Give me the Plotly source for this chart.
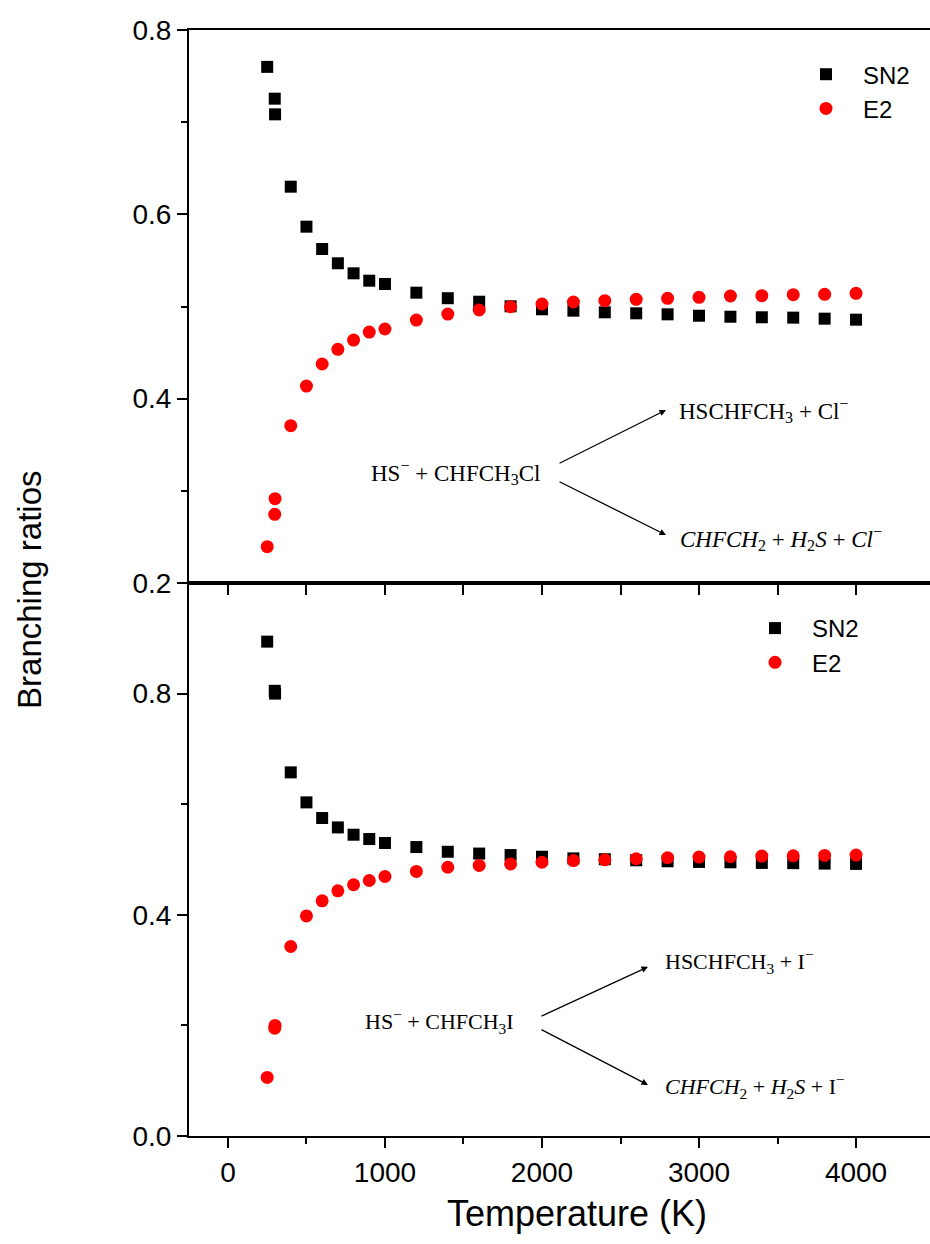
import plotly.graph_objects as go
from plotly.subplots import make_subplots

# ---------------- data ----------------
temps = [250, 298, 300, 400, 500, 600, 700, 800, 900, 1000, 1200, 1400, 1600,
         1800, 2000, 2200, 2400, 2600, 2800, 3000, 3200, 3400, 3600, 3800, 4000]

cl_sn2 = [0.760, 0.7255, 0.7085, 0.630, 0.5866, 0.5624, 0.5469, 0.536, 0.528,
          0.5244, 0.515, 0.509, 0.5052, 0.5002, 0.4970, 0.4955, 0.4937, 0.4926,
          0.4915, 0.4900, 0.4889, 0.4883, 0.4879, 0.4868, 0.4857]
cl_e2 = [0.2394, 0.2745, 0.2915, 0.3707, 0.4137, 0.4376, 0.4535, 0.4636, 0.4723,
         0.4756, 0.4853, 0.4918, 0.4962, 0.4998, 0.5027, 0.5049, 0.5063, 0.5078,
         0.5089, 0.5100, 0.5114, 0.5117, 0.5128, 0.5132, 0.5143]

i_sn2 = [0.894, 0.805, 0.800, 0.6576, 0.6033, 0.575, 0.558, 0.5448, 0.537,
         0.5298, 0.5225, 0.514, 0.5107, 0.508, 0.505, 0.502, 0.5005, 0.4986,
         0.4968, 0.4956, 0.495, 0.4938, 0.4934, 0.4926, 0.492]
i_e2 = [0.106, 0.195, 0.200, 0.3427, 0.398, 0.4253, 0.4434, 0.4543, 0.462,
        0.4693, 0.4784, 0.486, 0.4893, 0.492, 0.495, 0.498, 0.4995, 0.5014,
        0.5032, 0.5044, 0.505, 0.5062, 0.5066, 0.5074, 0.508]

series_names = ["SN2", "E2"]
x_ticks = [0, 1000, 2000, 3000, 4000]

# ---------------- figure ----------------
SANS = "Liberation Sans, Arial, sans-serif"
SERIF = "Liberation Serif, Times New Roman, serif"

fig = make_subplots(rows=2, cols=1, shared_xaxes=False, vertical_spacing=0)

sq = dict(symbol="square", size=12, color="black")
ci = dict(symbol="circle", size=13, color="#ff0000")

fig.add_trace(go.Scatter(x=temps, y=cl_sn2, mode="markers", marker=sq,
                         name=series_names[0], legend="legend"), row=1, col=1)
fig.add_trace(go.Scatter(x=temps, y=cl_e2, mode="markers", marker=ci,
                         name=series_names[1], legend="legend"), row=1, col=1)
fig.add_trace(go.Scatter(x=temps, y=i_sn2, mode="markers", marker=sq,
                         name=series_names[0], legend="legend2"), row=2, col=1)
fig.add_trace(go.Scatter(x=temps, y=i_e2, mode="markers", marker=ci,
                         name=series_names[1], legend="legend2"), row=2, col=1)

xrange = [-248, 4471]
axis_common = dict(showline=True, linecolor="black", linewidth=2,
                   ticks="outside", tickcolor="black", tickwidth=2,
                   showgrid=False, zeroline=False,
                   tickfont=dict(family=SANS, size=28, color="black"))

fig.update_xaxes(range=xrange, mirror=True, tickvals=list(range(0, 4001, 500)),
                 ticklen=10, showticklabels=False, row=1, col=1, **axis_common)
fig.update_xaxes(range=xrange, mirror=True, tickvals=x_ticks, ticklen=10,
                 minor=dict(tickvals=[500, 1500, 2500, 3500], ticklen=6,
                            tickwidth=2, tickcolor="black", ticks="outside"),
                 row=2, col=1, **axis_common)
fig.update_yaxes(range=[0.2, 0.8], tickvals=[0.2, 0.4, 0.6, 0.8], tickformat=".1f",
                 ticklen=10, mirror=False,
                 minor=dict(tickvals=[0.3, 0.5, 0.7], ticklen=6, tickwidth=2,
                            tickcolor="black", ticks="outside"),
                 row=1, col=1, **axis_common)
fig.update_yaxes(range=[0.0, 1.0], tickvals=[0.0, 0.4, 0.8], tickformat=".1f",
                 ticklen=10, mirror=False,
                 minor=dict(tickvals=[0.2, 0.6], ticklen=6, tickwidth=2,
                            tickcolor="black", ticks="outside"),
                 row=2, col=1, **axis_common)

leg_common = dict(font=dict(family=SANS, size=24, color="black"),
                  bgcolor="rgba(0,0,0,0)", itemwidth=64, xanchor="left",
                  yanchor="top", tracegroupgap=0)

fig.update_layout(
    width=930, height=1244,
    margin=dict(l=189, r=0, t=30, b=108),
    paper_bgcolor="white", plot_bgcolor="white",
    showlegend=True,
    legend=dict(x=0.8097, y=0.980, **leg_common),
    legend2=dict(x=0.7409, y=0.4792, **leg_common),
)

# axis titles
fig.add_annotation(text="Branching ratios", xref="paper", yref="paper",
                   x=-0.2146, y=0.4937, xanchor="center", yanchor="middle",
                   showarrow=False, textangle=-90,
                   font=dict(family=SANS, size=33, color="black"))
fig.add_annotation(text="Temperature (K)", xref="paper", yref="paper",
                   x=0.5236, y=-0.0705, xanchor="center", yanchor="middle",
                   showarrow=False,
                   font=dict(family=SANS, size=36, color="black"))

# reaction schemes
def scheme(xr, yr, xa, ya, xb, yb, tail, head_up, head_dn, react, prod_up, prod_dn, row, fsize):
    xref = "x" if row == 1 else "x2"
    yref = "y" if row == 1 else "y2"
    sfont = dict(family=SERIF, size=fsize, color="black")
    fig.add_annotation(text=react, x=xr, y=yr, xref=xref, yref=yref,
                       showarrow=False, xanchor="center", yanchor="middle", font=sfont)
    fig.add_annotation(text=prod_up, x=xa, y=ya, xref=xref, yref=yref,
                       showarrow=False, xanchor="left", yanchor="middle", font=sfont)
    fig.add_annotation(text=prod_dn, x=xb, y=yb, xref=xref, yref=yref,
                       showarrow=False, xanchor="left", yanchor="middle", font=sfont)
    for (tx, ty), (hx, hy) in [(tail[0], head_up), (tail[1], head_dn)]:
        fig.add_annotation(x=hx, y=hy, ax=tx, ay=ty, xref=xref, yref=yref,
                           axref=xref, ayref=yref, text="", showarrow=True,
                           arrowhead=2, arrowsize=1, arrowwidth=1.3,
                           arrowcolor="black")

scheme(1452, 0.3204, 2860, 0.3877, 2866, 0.2488,
       [(2102, 0.3291), (2102, 0.3107)], (2790, 0.3877), (2790, 0.2521),
       "HS<sup>−</sup> + CHFCH<sub>3</sub>Cl",
       "HSCHFCH<sub>3</sub> + Cl<sup>−</sup>",
       "<i>CHFCH</i><sub>2</sub> + <i>H</i><sub>2</sub><i>S</i> + <i>Cl</i><sup>−</sup>",
       1, 23)
scheme(1345, 0.2063, 2771, 0.3149, 2771, 0.0887,
       [(1987, 0.2154), (1987, 0.1937)], (2675, 0.3059), (2675, 0.0923),
       "HS<sup>−</sup> + CHFCH<sub>3</sub>I",
       "HSCHFCH<sub>3</sub> + I<sup>−</sup>",
       "<i>CHFCH</i><sub>2</sub> + <i>H</i><sub>2</sub><i>S</i> + I<sup>−</sup>",
       2, 22)

fig.write_html("out.html",
               config={"displayModeBar": False},
               post_script="document.body.style.margin='0';"
                           "document.body.style.overflow='hidden';")
